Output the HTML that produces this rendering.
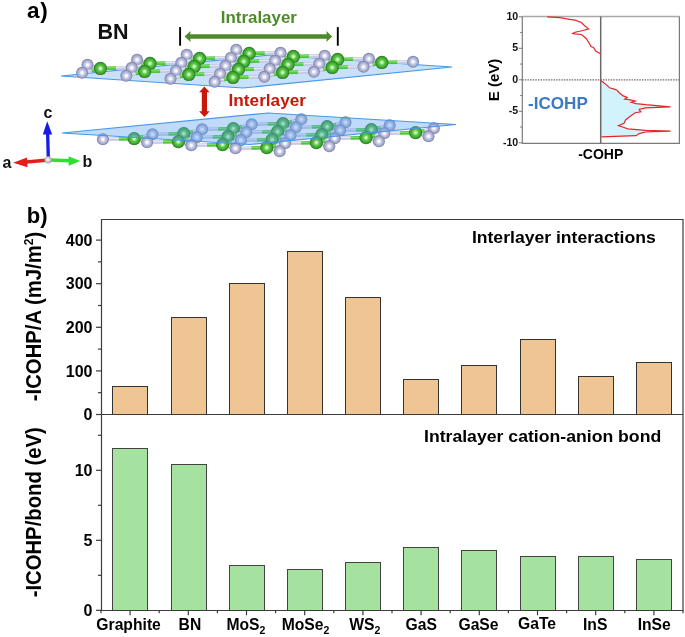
<!DOCTYPE html>
<html><head><meta charset="utf-8"><style>
html,body{margin:0;padding:0;background:#fff;}
svg{display:block;will-change:transform;}
</style></head><body>
<svg width="685" height="637" viewBox="0 0 685 637">
<defs>
<radialGradient id="gN" cx="0.5" cy="0.5" r="0.5">
<stop offset="0" stop-color="#ffffff"/><stop offset="0.18" stop-color="#f6f7ff"/><stop offset="0.42" stop-color="#c8cce6"/><stop offset="0.76" stop-color="#a2a7ca"/><stop offset="1" stop-color="#777ca2"/></radialGradient>
<radialGradient id="gG" cx="0.5" cy="0.5" r="0.5">
<stop offset="0" stop-color="#f0fff0"/><stop offset="0.18" stop-color="#b2f49e"/><stop offset="0.42" stop-color="#60c84c"/><stop offset="0.78" stop-color="#3da231"/><stop offset="1" stop-color="#2a7424"/></radialGradient>
<radialGradient id="gO" cx="0.45" cy="0.45" r="0.6"><stop offset="0" stop-color="#fff"/><stop offset="1" stop-color="#999"/></radialGradient>
</defs>
<rect width="685" height="637" fill="#fff"/>

<polygon points="61,76 270,55 452,67 243,88" fill="#5aa0f0" fill-opacity="0.33" stroke="#4a96e8" stroke-width="1.1"/>
<line x1="249.23" y1="53.47" x2="242.77" y2="51.63" stroke="#4cc43c" stroke-width="3.6"/><line x1="242.77" y1="51.63" x2="236.30" y2="49.80" stroke="#c6c8e2" stroke-width="3.6"/><line x1="249.23" y1="52.97" x2="242.77" y2="51.13" stroke="#7ee06a" stroke-width="1.1"/><line x1="242.77" y1="51.13" x2="236.30" y2="49.30" stroke="#e4e5f6" stroke-width="1.1"/>
<circle cx="236.30" cy="49.80" r="6.0" fill="url(#gN)"/>
<line x1="249.23" y1="53.47" x2="264.87" y2="53.13" stroke="#4cc43c" stroke-width="3.6"/><line x1="264.87" y1="53.13" x2="280.50" y2="52.80" stroke="#c6c8e2" stroke-width="3.6"/><line x1="249.23" y1="52.97" x2="264.87" y2="52.63" stroke="#7ee06a" stroke-width="1.1"/><line x1="264.87" y1="52.63" x2="280.50" y2="52.30" stroke="#e4e5f6" stroke-width="1.1"/>
<line x1="293.43" y1="56.47" x2="286.97" y2="54.63" stroke="#4cc43c" stroke-width="3.6"/><line x1="286.97" y1="54.63" x2="280.50" y2="52.80" stroke="#c6c8e2" stroke-width="3.6"/><line x1="293.43" y1="55.97" x2="286.97" y2="54.13" stroke="#7ee06a" stroke-width="1.1"/><line x1="286.97" y1="54.13" x2="280.50" y2="52.30" stroke="#e4e5f6" stroke-width="1.1"/>
<circle cx="280.50" cy="52.80" r="6.0" fill="url(#gN)"/>
<line x1="293.43" y1="56.47" x2="309.07" y2="56.13" stroke="#4cc43c" stroke-width="3.6"/><line x1="309.07" y1="56.13" x2="324.70" y2="55.80" stroke="#c6c8e2" stroke-width="3.6"/><line x1="293.43" y1="55.97" x2="309.07" y2="55.63" stroke="#7ee06a" stroke-width="1.1"/><line x1="309.07" y1="55.63" x2="324.70" y2="55.30" stroke="#e4e5f6" stroke-width="1.1"/>
<line x1="337.63" y1="59.47" x2="331.17" y2="57.63" stroke="#4cc43c" stroke-width="3.6"/><line x1="331.17" y1="57.63" x2="324.70" y2="55.80" stroke="#c6c8e2" stroke-width="3.6"/><line x1="337.63" y1="58.97" x2="331.17" y2="57.13" stroke="#7ee06a" stroke-width="1.1"/><line x1="331.17" y1="57.13" x2="324.70" y2="55.30" stroke="#e4e5f6" stroke-width="1.1"/>
<circle cx="324.70" cy="55.80" r="6.0" fill="url(#gN)"/>
<line x1="337.63" y1="59.47" x2="353.27" y2="59.13" stroke="#4cc43c" stroke-width="3.6"/><line x1="353.27" y1="59.13" x2="368.90" y2="58.80" stroke="#c6c8e2" stroke-width="3.6"/><line x1="337.63" y1="58.97" x2="353.27" y2="58.63" stroke="#7ee06a" stroke-width="1.1"/><line x1="353.27" y1="58.63" x2="368.90" y2="58.30" stroke="#e4e5f6" stroke-width="1.1"/>
<line x1="381.83" y1="62.47" x2="375.37" y2="60.63" stroke="#4cc43c" stroke-width="3.6"/><line x1="375.37" y1="60.63" x2="368.90" y2="58.80" stroke="#c6c8e2" stroke-width="3.6"/><line x1="381.83" y1="61.97" x2="375.37" y2="60.13" stroke="#7ee06a" stroke-width="1.1"/><line x1="375.37" y1="60.13" x2="368.90" y2="58.30" stroke="#e4e5f6" stroke-width="1.1"/>
<circle cx="368.90" cy="58.80" r="6.0" fill="url(#gN)"/>
<line x1="381.83" y1="62.47" x2="397.47" y2="62.13" stroke="#4cc43c" stroke-width="3.6"/><line x1="397.47" y1="62.13" x2="413.10" y2="61.80" stroke="#c6c8e2" stroke-width="3.6"/><line x1="381.83" y1="61.97" x2="397.47" y2="61.63" stroke="#7ee06a" stroke-width="1.1"/><line x1="397.47" y1="61.63" x2="413.10" y2="61.30" stroke="#e4e5f6" stroke-width="1.1"/>
<circle cx="413.10" cy="61.80" r="6.0" fill="url(#gN)"/>
<line x1="249.23" y1="53.47" x2="240.07" y2="55.63" stroke="#4cc43c" stroke-width="3.6"/><line x1="240.07" y1="55.63" x2="230.90" y2="57.80" stroke="#c6c8e2" stroke-width="3.6"/><line x1="249.23" y1="52.97" x2="240.07" y2="55.13" stroke="#7ee06a" stroke-width="1.1"/><line x1="240.07" y1="55.13" x2="230.90" y2="57.30" stroke="#e4e5f6" stroke-width="1.1"/>
<circle cx="249.23" cy="53.47" r="6.6" fill="url(#gG)"/>
<line x1="293.43" y1="56.47" x2="284.27" y2="58.63" stroke="#4cc43c" stroke-width="3.6"/><line x1="284.27" y1="58.63" x2="275.10" y2="60.80" stroke="#c6c8e2" stroke-width="3.6"/><line x1="293.43" y1="55.97" x2="284.27" y2="58.13" stroke="#7ee06a" stroke-width="1.1"/><line x1="284.27" y1="58.13" x2="275.10" y2="60.30" stroke="#e4e5f6" stroke-width="1.1"/>
<circle cx="293.43" cy="56.47" r="6.6" fill="url(#gG)"/>
<line x1="337.63" y1="59.47" x2="328.47" y2="61.63" stroke="#4cc43c" stroke-width="3.6"/><line x1="328.47" y1="61.63" x2="319.30" y2="63.80" stroke="#c6c8e2" stroke-width="3.6"/><line x1="337.63" y1="58.97" x2="328.47" y2="61.13" stroke="#7ee06a" stroke-width="1.1"/><line x1="328.47" y1="61.13" x2="319.30" y2="63.30" stroke="#e4e5f6" stroke-width="1.1"/>
<circle cx="337.63" cy="59.47" r="6.6" fill="url(#gG)"/>
<line x1="381.83" y1="62.47" x2="372.67" y2="64.63" stroke="#4cc43c" stroke-width="3.6"/><line x1="372.67" y1="64.63" x2="363.50" y2="66.80" stroke="#c6c8e2" stroke-width="3.6"/><line x1="381.83" y1="61.97" x2="372.67" y2="64.13" stroke="#7ee06a" stroke-width="1.1"/><line x1="372.67" y1="64.13" x2="363.50" y2="66.30" stroke="#e4e5f6" stroke-width="1.1"/>
<circle cx="381.83" cy="62.47" r="6.6" fill="url(#gG)"/>
<line x1="199.63" y1="58.47" x2="193.17" y2="56.63" stroke="#4cc43c" stroke-width="3.6"/><line x1="193.17" y1="56.63" x2="186.70" y2="54.80" stroke="#c6c8e2" stroke-width="3.6"/><line x1="199.63" y1="57.97" x2="193.17" y2="56.13" stroke="#7ee06a" stroke-width="1.1"/><line x1="193.17" y1="56.13" x2="186.70" y2="54.30" stroke="#e4e5f6" stroke-width="1.1"/>
<circle cx="186.70" cy="54.80" r="6.0" fill="url(#gN)"/>
<line x1="199.63" y1="58.47" x2="215.27" y2="58.13" stroke="#4cc43c" stroke-width="3.6"/><line x1="215.27" y1="58.13" x2="230.90" y2="57.80" stroke="#c6c8e2" stroke-width="3.6"/><line x1="199.63" y1="57.97" x2="215.27" y2="57.63" stroke="#7ee06a" stroke-width="1.1"/><line x1="215.27" y1="57.63" x2="230.90" y2="57.30" stroke="#e4e5f6" stroke-width="1.1"/>
<line x1="243.83" y1="61.47" x2="237.37" y2="59.63" stroke="#4cc43c" stroke-width="3.6"/><line x1="237.37" y1="59.63" x2="230.90" y2="57.80" stroke="#c6c8e2" stroke-width="3.6"/><line x1="243.83" y1="60.97" x2="237.37" y2="59.13" stroke="#7ee06a" stroke-width="1.1"/><line x1="237.37" y1="59.13" x2="230.90" y2="57.30" stroke="#e4e5f6" stroke-width="1.1"/>
<circle cx="230.90" cy="57.80" r="6.0" fill="url(#gN)"/>
<line x1="243.83" y1="61.47" x2="259.47" y2="61.13" stroke="#4cc43c" stroke-width="3.6"/><line x1="259.47" y1="61.13" x2="275.10" y2="60.80" stroke="#c6c8e2" stroke-width="3.6"/><line x1="243.83" y1="60.97" x2="259.47" y2="60.63" stroke="#7ee06a" stroke-width="1.1"/><line x1="259.47" y1="60.63" x2="275.10" y2="60.30" stroke="#e4e5f6" stroke-width="1.1"/>
<line x1="288.03" y1="64.47" x2="281.57" y2="62.63" stroke="#4cc43c" stroke-width="3.6"/><line x1="281.57" y1="62.63" x2="275.10" y2="60.80" stroke="#c6c8e2" stroke-width="3.6"/><line x1="288.03" y1="63.97" x2="281.57" y2="62.13" stroke="#7ee06a" stroke-width="1.1"/><line x1="281.57" y1="62.13" x2="275.10" y2="60.30" stroke="#e4e5f6" stroke-width="1.1"/>
<circle cx="275.10" cy="60.80" r="6.0" fill="url(#gN)"/>
<line x1="288.03" y1="64.47" x2="303.67" y2="64.13" stroke="#4cc43c" stroke-width="3.6"/><line x1="303.67" y1="64.13" x2="319.30" y2="63.80" stroke="#c6c8e2" stroke-width="3.6"/><line x1="288.03" y1="63.97" x2="303.67" y2="63.63" stroke="#7ee06a" stroke-width="1.1"/><line x1="303.67" y1="63.63" x2="319.30" y2="63.30" stroke="#e4e5f6" stroke-width="1.1"/>
<line x1="332.23" y1="67.47" x2="325.77" y2="65.63" stroke="#4cc43c" stroke-width="3.6"/><line x1="325.77" y1="65.63" x2="319.30" y2="63.80" stroke="#c6c8e2" stroke-width="3.6"/><line x1="332.23" y1="66.97" x2="325.77" y2="65.13" stroke="#7ee06a" stroke-width="1.1"/><line x1="325.77" y1="65.13" x2="319.30" y2="63.30" stroke="#e4e5f6" stroke-width="1.1"/>
<circle cx="319.30" cy="63.80" r="6.0" fill="url(#gN)"/>
<line x1="332.23" y1="67.47" x2="347.87" y2="67.13" stroke="#4cc43c" stroke-width="3.6"/><line x1="347.87" y1="67.13" x2="363.50" y2="66.80" stroke="#c6c8e2" stroke-width="3.6"/><line x1="332.23" y1="66.97" x2="347.87" y2="66.63" stroke="#7ee06a" stroke-width="1.1"/><line x1="347.87" y1="66.63" x2="363.50" y2="66.30" stroke="#e4e5f6" stroke-width="1.1"/>
<circle cx="363.50" cy="66.80" r="6.0" fill="url(#gN)"/>
<line x1="199.63" y1="58.47" x2="190.47" y2="60.63" stroke="#4cc43c" stroke-width="3.6"/><line x1="190.47" y1="60.63" x2="181.30" y2="62.80" stroke="#c6c8e2" stroke-width="3.6"/><line x1="199.63" y1="57.97" x2="190.47" y2="60.13" stroke="#7ee06a" stroke-width="1.1"/><line x1="190.47" y1="60.13" x2="181.30" y2="62.30" stroke="#e4e5f6" stroke-width="1.1"/>
<circle cx="199.63" cy="58.47" r="6.6" fill="url(#gG)"/>
<line x1="243.83" y1="61.47" x2="234.67" y2="63.63" stroke="#4cc43c" stroke-width="3.6"/><line x1="234.67" y1="63.63" x2="225.50" y2="65.80" stroke="#c6c8e2" stroke-width="3.6"/><line x1="243.83" y1="60.97" x2="234.67" y2="63.13" stroke="#7ee06a" stroke-width="1.1"/><line x1="234.67" y1="63.13" x2="225.50" y2="65.30" stroke="#e4e5f6" stroke-width="1.1"/>
<circle cx="243.83" cy="61.47" r="6.6" fill="url(#gG)"/>
<line x1="288.03" y1="64.47" x2="278.87" y2="66.63" stroke="#4cc43c" stroke-width="3.6"/><line x1="278.87" y1="66.63" x2="269.70" y2="68.80" stroke="#c6c8e2" stroke-width="3.6"/><line x1="288.03" y1="63.97" x2="278.87" y2="66.13" stroke="#7ee06a" stroke-width="1.1"/><line x1="278.87" y1="66.13" x2="269.70" y2="68.30" stroke="#e4e5f6" stroke-width="1.1"/>
<circle cx="288.03" cy="64.47" r="6.6" fill="url(#gG)"/>
<line x1="332.23" y1="67.47" x2="323.07" y2="69.63" stroke="#4cc43c" stroke-width="3.6"/><line x1="323.07" y1="69.63" x2="313.90" y2="71.80" stroke="#c6c8e2" stroke-width="3.6"/><line x1="332.23" y1="66.97" x2="323.07" y2="69.13" stroke="#7ee06a" stroke-width="1.1"/><line x1="323.07" y1="69.13" x2="313.90" y2="71.30" stroke="#e4e5f6" stroke-width="1.1"/>
<circle cx="332.23" cy="67.47" r="6.6" fill="url(#gG)"/>
<line x1="150.03" y1="63.47" x2="143.57" y2="61.63" stroke="#4cc43c" stroke-width="3.6"/><line x1="143.57" y1="61.63" x2="137.10" y2="59.80" stroke="#c6c8e2" stroke-width="3.6"/><line x1="150.03" y1="62.97" x2="143.57" y2="61.13" stroke="#7ee06a" stroke-width="1.1"/><line x1="143.57" y1="61.13" x2="137.10" y2="59.30" stroke="#e4e5f6" stroke-width="1.1"/>
<circle cx="137.10" cy="59.80" r="6.0" fill="url(#gN)"/>
<line x1="150.03" y1="63.47" x2="165.67" y2="63.13" stroke="#4cc43c" stroke-width="3.6"/><line x1="165.67" y1="63.13" x2="181.30" y2="62.80" stroke="#c6c8e2" stroke-width="3.6"/><line x1="150.03" y1="62.97" x2="165.67" y2="62.63" stroke="#7ee06a" stroke-width="1.1"/><line x1="165.67" y1="62.63" x2="181.30" y2="62.30" stroke="#e4e5f6" stroke-width="1.1"/>
<line x1="194.23" y1="66.47" x2="187.77" y2="64.63" stroke="#4cc43c" stroke-width="3.6"/><line x1="187.77" y1="64.63" x2="181.30" y2="62.80" stroke="#c6c8e2" stroke-width="3.6"/><line x1="194.23" y1="65.97" x2="187.77" y2="64.13" stroke="#7ee06a" stroke-width="1.1"/><line x1="187.77" y1="64.13" x2="181.30" y2="62.30" stroke="#e4e5f6" stroke-width="1.1"/>
<circle cx="181.30" cy="62.80" r="6.0" fill="url(#gN)"/>
<line x1="194.23" y1="66.47" x2="209.87" y2="66.13" stroke="#4cc43c" stroke-width="3.6"/><line x1="209.87" y1="66.13" x2="225.50" y2="65.80" stroke="#c6c8e2" stroke-width="3.6"/><line x1="194.23" y1="65.97" x2="209.87" y2="65.63" stroke="#7ee06a" stroke-width="1.1"/><line x1="209.87" y1="65.63" x2="225.50" y2="65.30" stroke="#e4e5f6" stroke-width="1.1"/>
<line x1="238.43" y1="69.47" x2="231.97" y2="67.63" stroke="#4cc43c" stroke-width="3.6"/><line x1="231.97" y1="67.63" x2="225.50" y2="65.80" stroke="#c6c8e2" stroke-width="3.6"/><line x1="238.43" y1="68.97" x2="231.97" y2="67.13" stroke="#7ee06a" stroke-width="1.1"/><line x1="231.97" y1="67.13" x2="225.50" y2="65.30" stroke="#e4e5f6" stroke-width="1.1"/>
<circle cx="225.50" cy="65.80" r="6.0" fill="url(#gN)"/>
<line x1="238.43" y1="69.47" x2="254.07" y2="69.13" stroke="#4cc43c" stroke-width="3.6"/><line x1="254.07" y1="69.13" x2="269.70" y2="68.80" stroke="#c6c8e2" stroke-width="3.6"/><line x1="238.43" y1="68.97" x2="254.07" y2="68.63" stroke="#7ee06a" stroke-width="1.1"/><line x1="254.07" y1="68.63" x2="269.70" y2="68.30" stroke="#e4e5f6" stroke-width="1.1"/>
<line x1="282.63" y1="72.47" x2="276.17" y2="70.63" stroke="#4cc43c" stroke-width="3.6"/><line x1="276.17" y1="70.63" x2="269.70" y2="68.80" stroke="#c6c8e2" stroke-width="3.6"/><line x1="282.63" y1="71.97" x2="276.17" y2="70.13" stroke="#7ee06a" stroke-width="1.1"/><line x1="276.17" y1="70.13" x2="269.70" y2="68.30" stroke="#e4e5f6" stroke-width="1.1"/>
<circle cx="269.70" cy="68.80" r="6.0" fill="url(#gN)"/>
<line x1="282.63" y1="72.47" x2="298.27" y2="72.13" stroke="#4cc43c" stroke-width="3.6"/><line x1="298.27" y1="72.13" x2="313.90" y2="71.80" stroke="#c6c8e2" stroke-width="3.6"/><line x1="282.63" y1="71.97" x2="298.27" y2="71.63" stroke="#7ee06a" stroke-width="1.1"/><line x1="298.27" y1="71.63" x2="313.90" y2="71.30" stroke="#e4e5f6" stroke-width="1.1"/>
<circle cx="313.90" cy="71.80" r="6.0" fill="url(#gN)"/>
<line x1="150.03" y1="63.47" x2="140.87" y2="65.63" stroke="#4cc43c" stroke-width="3.6"/><line x1="140.87" y1="65.63" x2="131.70" y2="67.80" stroke="#c6c8e2" stroke-width="3.6"/><line x1="150.03" y1="62.97" x2="140.87" y2="65.13" stroke="#7ee06a" stroke-width="1.1"/><line x1="140.87" y1="65.13" x2="131.70" y2="67.30" stroke="#e4e5f6" stroke-width="1.1"/>
<circle cx="150.03" cy="63.47" r="6.6" fill="url(#gG)"/>
<line x1="194.23" y1="66.47" x2="185.07" y2="68.63" stroke="#4cc43c" stroke-width="3.6"/><line x1="185.07" y1="68.63" x2="175.90" y2="70.80" stroke="#c6c8e2" stroke-width="3.6"/><line x1="194.23" y1="65.97" x2="185.07" y2="68.13" stroke="#7ee06a" stroke-width="1.1"/><line x1="185.07" y1="68.13" x2="175.90" y2="70.30" stroke="#e4e5f6" stroke-width="1.1"/>
<circle cx="194.23" cy="66.47" r="6.6" fill="url(#gG)"/>
<line x1="238.43" y1="69.47" x2="229.27" y2="71.63" stroke="#4cc43c" stroke-width="3.6"/><line x1="229.27" y1="71.63" x2="220.10" y2="73.80" stroke="#c6c8e2" stroke-width="3.6"/><line x1="238.43" y1="68.97" x2="229.27" y2="71.13" stroke="#7ee06a" stroke-width="1.1"/><line x1="229.27" y1="71.13" x2="220.10" y2="73.30" stroke="#e4e5f6" stroke-width="1.1"/>
<circle cx="238.43" cy="69.47" r="6.6" fill="url(#gG)"/>
<line x1="282.63" y1="72.47" x2="273.47" y2="74.63" stroke="#4cc43c" stroke-width="3.6"/><line x1="273.47" y1="74.63" x2="264.30" y2="76.80" stroke="#c6c8e2" stroke-width="3.6"/><line x1="282.63" y1="71.97" x2="273.47" y2="74.13" stroke="#7ee06a" stroke-width="1.1"/><line x1="273.47" y1="74.13" x2="264.30" y2="76.30" stroke="#e4e5f6" stroke-width="1.1"/>
<circle cx="282.63" cy="72.47" r="6.6" fill="url(#gG)"/>
<line x1="100.43" y1="68.47" x2="93.97" y2="66.63" stroke="#4cc43c" stroke-width="3.6"/><line x1="93.97" y1="66.63" x2="87.50" y2="64.80" stroke="#c6c8e2" stroke-width="3.6"/><line x1="100.43" y1="67.97" x2="93.97" y2="66.13" stroke="#7ee06a" stroke-width="1.1"/><line x1="93.97" y1="66.13" x2="87.50" y2="64.30" stroke="#e4e5f6" stroke-width="1.1"/>
<circle cx="87.50" cy="64.80" r="6.0" fill="url(#gN)"/>
<line x1="100.43" y1="68.47" x2="116.07" y2="68.13" stroke="#4cc43c" stroke-width="3.6"/><line x1="116.07" y1="68.13" x2="131.70" y2="67.80" stroke="#c6c8e2" stroke-width="3.6"/><line x1="100.43" y1="67.97" x2="116.07" y2="67.63" stroke="#7ee06a" stroke-width="1.1"/><line x1="116.07" y1="67.63" x2="131.70" y2="67.30" stroke="#e4e5f6" stroke-width="1.1"/>
<line x1="144.63" y1="71.47" x2="138.17" y2="69.63" stroke="#4cc43c" stroke-width="3.6"/><line x1="138.17" y1="69.63" x2="131.70" y2="67.80" stroke="#c6c8e2" stroke-width="3.6"/><line x1="144.63" y1="70.97" x2="138.17" y2="69.13" stroke="#7ee06a" stroke-width="1.1"/><line x1="138.17" y1="69.13" x2="131.70" y2="67.30" stroke="#e4e5f6" stroke-width="1.1"/>
<circle cx="131.70" cy="67.80" r="6.0" fill="url(#gN)"/>
<line x1="144.63" y1="71.47" x2="160.27" y2="71.13" stroke="#4cc43c" stroke-width="3.6"/><line x1="160.27" y1="71.13" x2="175.90" y2="70.80" stroke="#c6c8e2" stroke-width="3.6"/><line x1="144.63" y1="70.97" x2="160.27" y2="70.63" stroke="#7ee06a" stroke-width="1.1"/><line x1="160.27" y1="70.63" x2="175.90" y2="70.30" stroke="#e4e5f6" stroke-width="1.1"/>
<line x1="188.83" y1="74.47" x2="182.37" y2="72.63" stroke="#4cc43c" stroke-width="3.6"/><line x1="182.37" y1="72.63" x2="175.90" y2="70.80" stroke="#c6c8e2" stroke-width="3.6"/><line x1="188.83" y1="73.97" x2="182.37" y2="72.13" stroke="#7ee06a" stroke-width="1.1"/><line x1="182.37" y1="72.13" x2="175.90" y2="70.30" stroke="#e4e5f6" stroke-width="1.1"/>
<circle cx="175.90" cy="70.80" r="6.0" fill="url(#gN)"/>
<line x1="188.83" y1="74.47" x2="204.47" y2="74.13" stroke="#4cc43c" stroke-width="3.6"/><line x1="204.47" y1="74.13" x2="220.10" y2="73.80" stroke="#c6c8e2" stroke-width="3.6"/><line x1="188.83" y1="73.97" x2="204.47" y2="73.63" stroke="#7ee06a" stroke-width="1.1"/><line x1="204.47" y1="73.63" x2="220.10" y2="73.30" stroke="#e4e5f6" stroke-width="1.1"/>
<line x1="233.03" y1="77.47" x2="226.57" y2="75.63" stroke="#4cc43c" stroke-width="3.6"/><line x1="226.57" y1="75.63" x2="220.10" y2="73.80" stroke="#c6c8e2" stroke-width="3.6"/><line x1="233.03" y1="76.97" x2="226.57" y2="75.13" stroke="#7ee06a" stroke-width="1.1"/><line x1="226.57" y1="75.13" x2="220.10" y2="73.30" stroke="#e4e5f6" stroke-width="1.1"/>
<circle cx="220.10" cy="73.80" r="6.0" fill="url(#gN)"/>
<line x1="233.03" y1="77.47" x2="248.67" y2="77.13" stroke="#4cc43c" stroke-width="3.6"/><line x1="248.67" y1="77.13" x2="264.30" y2="76.80" stroke="#c6c8e2" stroke-width="3.6"/><line x1="233.03" y1="76.97" x2="248.67" y2="76.63" stroke="#7ee06a" stroke-width="1.1"/><line x1="248.67" y1="76.63" x2="264.30" y2="76.30" stroke="#e4e5f6" stroke-width="1.1"/>
<circle cx="264.30" cy="76.80" r="6.0" fill="url(#gN)"/>
<line x1="100.43" y1="68.47" x2="91.27" y2="70.63" stroke="#4cc43c" stroke-width="3.6"/><line x1="91.27" y1="70.63" x2="82.10" y2="72.80" stroke="#c6c8e2" stroke-width="3.6"/><line x1="100.43" y1="67.97" x2="91.27" y2="70.13" stroke="#7ee06a" stroke-width="1.1"/><line x1="91.27" y1="70.13" x2="82.10" y2="72.30" stroke="#e4e5f6" stroke-width="1.1"/>
<circle cx="100.43" cy="68.47" r="6.6" fill="url(#gG)"/>
<line x1="144.63" y1="71.47" x2="135.47" y2="73.63" stroke="#4cc43c" stroke-width="3.6"/><line x1="135.47" y1="73.63" x2="126.30" y2="75.80" stroke="#c6c8e2" stroke-width="3.6"/><line x1="144.63" y1="70.97" x2="135.47" y2="73.13" stroke="#7ee06a" stroke-width="1.1"/><line x1="135.47" y1="73.13" x2="126.30" y2="75.30" stroke="#e4e5f6" stroke-width="1.1"/>
<circle cx="144.63" cy="71.47" r="6.6" fill="url(#gG)"/>
<line x1="188.83" y1="74.47" x2="179.67" y2="76.63" stroke="#4cc43c" stroke-width="3.6"/><line x1="179.67" y1="76.63" x2="170.50" y2="78.80" stroke="#c6c8e2" stroke-width="3.6"/><line x1="188.83" y1="73.97" x2="179.67" y2="76.13" stroke="#7ee06a" stroke-width="1.1"/><line x1="179.67" y1="76.13" x2="170.50" y2="78.30" stroke="#e4e5f6" stroke-width="1.1"/>
<circle cx="188.83" cy="74.47" r="6.6" fill="url(#gG)"/>
<line x1="233.03" y1="77.47" x2="223.87" y2="79.63" stroke="#4cc43c" stroke-width="3.6"/><line x1="223.87" y1="79.63" x2="214.70" y2="81.80" stroke="#c6c8e2" stroke-width="3.6"/><line x1="233.03" y1="76.97" x2="223.87" y2="79.13" stroke="#7ee06a" stroke-width="1.1"/><line x1="223.87" y1="79.13" x2="214.70" y2="81.30" stroke="#e4e5f6" stroke-width="1.1"/>
<circle cx="233.03" cy="77.47" r="6.6" fill="url(#gG)"/>
<circle cx="82.10" cy="72.80" r="6.0" fill="url(#gN)"/>
<circle cx="126.30" cy="75.80" r="6.0" fill="url(#gN)"/>
<circle cx="170.50" cy="78.80" r="6.0" fill="url(#gN)"/>
<circle cx="214.70" cy="81.80" r="6.0" fill="url(#gN)"/>
<line x1="282.97" y1="123.63" x2="292.13" y2="121.47" stroke="#4cc43c" stroke-width="3.6"/><line x1="292.13" y1="121.47" x2="301.30" y2="119.30" stroke="#c6c8e2" stroke-width="3.6"/><line x1="282.97" y1="123.13" x2="292.13" y2="120.97" stroke="#7ee06a" stroke-width="1.1"/><line x1="292.13" y1="120.97" x2="301.30" y2="118.80" stroke="#e4e5f6" stroke-width="1.1"/>
<circle cx="301.30" cy="119.30" r="6.0" fill="url(#gN)"/>
<line x1="327.17" y1="126.63" x2="336.33" y2="124.47" stroke="#4cc43c" stroke-width="3.6"/><line x1="336.33" y1="124.47" x2="345.50" y2="122.30" stroke="#c6c8e2" stroke-width="3.6"/><line x1="327.17" y1="126.13" x2="336.33" y2="123.97" stroke="#7ee06a" stroke-width="1.1"/><line x1="336.33" y1="123.97" x2="345.50" y2="121.80" stroke="#e4e5f6" stroke-width="1.1"/>
<circle cx="345.50" cy="122.30" r="6.0" fill="url(#gN)"/>
<line x1="371.37" y1="129.63" x2="380.53" y2="127.47" stroke="#4cc43c" stroke-width="3.6"/><line x1="380.53" y1="127.47" x2="389.70" y2="125.30" stroke="#c6c8e2" stroke-width="3.6"/><line x1="371.37" y1="129.13" x2="380.53" y2="126.97" stroke="#7ee06a" stroke-width="1.1"/><line x1="380.53" y1="126.97" x2="389.70" y2="124.80" stroke="#e4e5f6" stroke-width="1.1"/>
<circle cx="389.70" cy="125.30" r="6.0" fill="url(#gN)"/>
<line x1="415.57" y1="132.63" x2="424.73" y2="130.47" stroke="#4cc43c" stroke-width="3.6"/><line x1="424.73" y1="130.47" x2="433.90" y2="128.30" stroke="#c6c8e2" stroke-width="3.6"/><line x1="415.57" y1="132.13" x2="424.73" y2="129.97" stroke="#7ee06a" stroke-width="1.1"/><line x1="424.73" y1="129.97" x2="433.90" y2="127.80" stroke="#e4e5f6" stroke-width="1.1"/>
<circle cx="433.90" cy="128.30" r="6.0" fill="url(#gN)"/>
<line x1="282.97" y1="123.63" x2="267.33" y2="123.97" stroke="#4cc43c" stroke-width="3.6"/><line x1="267.33" y1="123.97" x2="251.70" y2="124.30" stroke="#c6c8e2" stroke-width="3.6"/><line x1="282.97" y1="123.13" x2="267.33" y2="123.47" stroke="#7ee06a" stroke-width="1.1"/><line x1="267.33" y1="123.47" x2="251.70" y2="123.80" stroke="#e4e5f6" stroke-width="1.1"/>
<line x1="282.97" y1="123.63" x2="289.43" y2="125.47" stroke="#4cc43c" stroke-width="3.6"/><line x1="289.43" y1="125.47" x2="295.90" y2="127.30" stroke="#c6c8e2" stroke-width="3.6"/><line x1="282.97" y1="123.13" x2="289.43" y2="124.97" stroke="#7ee06a" stroke-width="1.1"/><line x1="289.43" y1="124.97" x2="295.90" y2="126.80" stroke="#e4e5f6" stroke-width="1.1"/>
<circle cx="282.97" cy="123.63" r="6.6" fill="url(#gG)"/>
<line x1="327.17" y1="126.63" x2="311.53" y2="126.97" stroke="#4cc43c" stroke-width="3.6"/><line x1="311.53" y1="126.97" x2="295.90" y2="127.30" stroke="#c6c8e2" stroke-width="3.6"/><line x1="327.17" y1="126.13" x2="311.53" y2="126.47" stroke="#7ee06a" stroke-width="1.1"/><line x1="311.53" y1="126.47" x2="295.90" y2="126.80" stroke="#e4e5f6" stroke-width="1.1"/>
<line x1="327.17" y1="126.63" x2="333.63" y2="128.47" stroke="#4cc43c" stroke-width="3.6"/><line x1="333.63" y1="128.47" x2="340.10" y2="130.30" stroke="#c6c8e2" stroke-width="3.6"/><line x1="327.17" y1="126.13" x2="333.63" y2="127.97" stroke="#7ee06a" stroke-width="1.1"/><line x1="333.63" y1="127.97" x2="340.10" y2="129.80" stroke="#e4e5f6" stroke-width="1.1"/>
<circle cx="327.17" cy="126.63" r="6.6" fill="url(#gG)"/>
<line x1="371.37" y1="129.63" x2="355.73" y2="129.97" stroke="#4cc43c" stroke-width="3.6"/><line x1="355.73" y1="129.97" x2="340.10" y2="130.30" stroke="#c6c8e2" stroke-width="3.6"/><line x1="371.37" y1="129.13" x2="355.73" y2="129.47" stroke="#7ee06a" stroke-width="1.1"/><line x1="355.73" y1="129.47" x2="340.10" y2="129.80" stroke="#e4e5f6" stroke-width="1.1"/>
<line x1="371.37" y1="129.63" x2="377.83" y2="131.47" stroke="#4cc43c" stroke-width="3.6"/><line x1="377.83" y1="131.47" x2="384.30" y2="133.30" stroke="#c6c8e2" stroke-width="3.6"/><line x1="371.37" y1="129.13" x2="377.83" y2="130.97" stroke="#7ee06a" stroke-width="1.1"/><line x1="377.83" y1="130.97" x2="384.30" y2="132.80" stroke="#e4e5f6" stroke-width="1.1"/>
<circle cx="371.37" cy="129.63" r="6.6" fill="url(#gG)"/>
<line x1="415.57" y1="132.63" x2="399.93" y2="132.97" stroke="#4cc43c" stroke-width="3.6"/><line x1="399.93" y1="132.97" x2="384.30" y2="133.30" stroke="#c6c8e2" stroke-width="3.6"/><line x1="415.57" y1="132.13" x2="399.93" y2="132.47" stroke="#7ee06a" stroke-width="1.1"/><line x1="399.93" y1="132.47" x2="384.30" y2="132.80" stroke="#e4e5f6" stroke-width="1.1"/>
<line x1="415.57" y1="132.63" x2="422.03" y2="134.47" stroke="#4cc43c" stroke-width="3.6"/><line x1="422.03" y1="134.47" x2="428.50" y2="136.30" stroke="#c6c8e2" stroke-width="3.6"/><line x1="415.57" y1="132.13" x2="422.03" y2="133.97" stroke="#7ee06a" stroke-width="1.1"/><line x1="422.03" y1="133.97" x2="428.50" y2="135.80" stroke="#e4e5f6" stroke-width="1.1"/>
<circle cx="415.57" cy="132.63" r="6.6" fill="url(#gG)"/>
<line x1="233.37" y1="128.63" x2="242.53" y2="126.47" stroke="#4cc43c" stroke-width="3.6"/><line x1="242.53" y1="126.47" x2="251.70" y2="124.30" stroke="#c6c8e2" stroke-width="3.6"/><line x1="233.37" y1="128.13" x2="242.53" y2="125.97" stroke="#7ee06a" stroke-width="1.1"/><line x1="242.53" y1="125.97" x2="251.70" y2="123.80" stroke="#e4e5f6" stroke-width="1.1"/>
<circle cx="251.70" cy="124.30" r="6.0" fill="url(#gN)"/>
<line x1="277.57" y1="131.63" x2="286.73" y2="129.47" stroke="#4cc43c" stroke-width="3.6"/><line x1="286.73" y1="129.47" x2="295.90" y2="127.30" stroke="#c6c8e2" stroke-width="3.6"/><line x1="277.57" y1="131.13" x2="286.73" y2="128.97" stroke="#7ee06a" stroke-width="1.1"/><line x1="286.73" y1="128.97" x2="295.90" y2="126.80" stroke="#e4e5f6" stroke-width="1.1"/>
<circle cx="295.90" cy="127.30" r="6.0" fill="url(#gN)"/>
<line x1="321.77" y1="134.63" x2="330.93" y2="132.47" stroke="#4cc43c" stroke-width="3.6"/><line x1="330.93" y1="132.47" x2="340.10" y2="130.30" stroke="#c6c8e2" stroke-width="3.6"/><line x1="321.77" y1="134.13" x2="330.93" y2="131.97" stroke="#7ee06a" stroke-width="1.1"/><line x1="330.93" y1="131.97" x2="340.10" y2="129.80" stroke="#e4e5f6" stroke-width="1.1"/>
<circle cx="340.10" cy="130.30" r="6.0" fill="url(#gN)"/>
<line x1="365.97" y1="137.63" x2="375.13" y2="135.47" stroke="#4cc43c" stroke-width="3.6"/><line x1="375.13" y1="135.47" x2="384.30" y2="133.30" stroke="#c6c8e2" stroke-width="3.6"/><line x1="365.97" y1="137.13" x2="375.13" y2="134.97" stroke="#7ee06a" stroke-width="1.1"/><line x1="375.13" y1="134.97" x2="384.30" y2="132.80" stroke="#e4e5f6" stroke-width="1.1"/>
<circle cx="384.30" cy="133.30" r="6.0" fill="url(#gN)"/>
<circle cx="428.50" cy="136.30" r="6.0" fill="url(#gN)"/>
<line x1="233.37" y1="128.63" x2="217.73" y2="128.97" stroke="#4cc43c" stroke-width="3.6"/><line x1="217.73" y1="128.97" x2="202.10" y2="129.30" stroke="#c6c8e2" stroke-width="3.6"/><line x1="233.37" y1="128.13" x2="217.73" y2="128.47" stroke="#7ee06a" stroke-width="1.1"/><line x1="217.73" y1="128.47" x2="202.10" y2="128.80" stroke="#e4e5f6" stroke-width="1.1"/>
<line x1="233.37" y1="128.63" x2="239.83" y2="130.47" stroke="#4cc43c" stroke-width="3.6"/><line x1="239.83" y1="130.47" x2="246.30" y2="132.30" stroke="#c6c8e2" stroke-width="3.6"/><line x1="233.37" y1="128.13" x2="239.83" y2="129.97" stroke="#7ee06a" stroke-width="1.1"/><line x1="239.83" y1="129.97" x2="246.30" y2="131.80" stroke="#e4e5f6" stroke-width="1.1"/>
<circle cx="233.37" cy="128.63" r="6.6" fill="url(#gG)"/>
<line x1="277.57" y1="131.63" x2="261.93" y2="131.97" stroke="#4cc43c" stroke-width="3.6"/><line x1="261.93" y1="131.97" x2="246.30" y2="132.30" stroke="#c6c8e2" stroke-width="3.6"/><line x1="277.57" y1="131.13" x2="261.93" y2="131.47" stroke="#7ee06a" stroke-width="1.1"/><line x1="261.93" y1="131.47" x2="246.30" y2="131.80" stroke="#e4e5f6" stroke-width="1.1"/>
<line x1="277.57" y1="131.63" x2="284.03" y2="133.47" stroke="#4cc43c" stroke-width="3.6"/><line x1="284.03" y1="133.47" x2="290.50" y2="135.30" stroke="#c6c8e2" stroke-width="3.6"/><line x1="277.57" y1="131.13" x2="284.03" y2="132.97" stroke="#7ee06a" stroke-width="1.1"/><line x1="284.03" y1="132.97" x2="290.50" y2="134.80" stroke="#e4e5f6" stroke-width="1.1"/>
<circle cx="277.57" cy="131.63" r="6.6" fill="url(#gG)"/>
<line x1="321.77" y1="134.63" x2="306.13" y2="134.97" stroke="#4cc43c" stroke-width="3.6"/><line x1="306.13" y1="134.97" x2="290.50" y2="135.30" stroke="#c6c8e2" stroke-width="3.6"/><line x1="321.77" y1="134.13" x2="306.13" y2="134.47" stroke="#7ee06a" stroke-width="1.1"/><line x1="306.13" y1="134.47" x2="290.50" y2="134.80" stroke="#e4e5f6" stroke-width="1.1"/>
<line x1="321.77" y1="134.63" x2="328.23" y2="136.47" stroke="#4cc43c" stroke-width="3.6"/><line x1="328.23" y1="136.47" x2="334.70" y2="138.30" stroke="#c6c8e2" stroke-width="3.6"/><line x1="321.77" y1="134.13" x2="328.23" y2="135.97" stroke="#7ee06a" stroke-width="1.1"/><line x1="328.23" y1="135.97" x2="334.70" y2="137.80" stroke="#e4e5f6" stroke-width="1.1"/>
<circle cx="321.77" cy="134.63" r="6.6" fill="url(#gG)"/>
<line x1="365.97" y1="137.63" x2="350.33" y2="137.97" stroke="#4cc43c" stroke-width="3.6"/><line x1="350.33" y1="137.97" x2="334.70" y2="138.30" stroke="#c6c8e2" stroke-width="3.6"/><line x1="365.97" y1="137.13" x2="350.33" y2="137.47" stroke="#7ee06a" stroke-width="1.1"/><line x1="350.33" y1="137.47" x2="334.70" y2="137.80" stroke="#e4e5f6" stroke-width="1.1"/>
<line x1="365.97" y1="137.63" x2="372.43" y2="139.47" stroke="#4cc43c" stroke-width="3.6"/><line x1="372.43" y1="139.47" x2="378.90" y2="141.30" stroke="#c6c8e2" stroke-width="3.6"/><line x1="365.97" y1="137.13" x2="372.43" y2="138.97" stroke="#7ee06a" stroke-width="1.1"/><line x1="372.43" y1="138.97" x2="378.90" y2="140.80" stroke="#e4e5f6" stroke-width="1.1"/>
<circle cx="365.97" cy="137.63" r="6.6" fill="url(#gG)"/>
<line x1="183.77" y1="133.63" x2="192.93" y2="131.47" stroke="#4cc43c" stroke-width="3.6"/><line x1="192.93" y1="131.47" x2="202.10" y2="129.30" stroke="#c6c8e2" stroke-width="3.6"/><line x1="183.77" y1="133.13" x2="192.93" y2="130.97" stroke="#7ee06a" stroke-width="1.1"/><line x1="192.93" y1="130.97" x2="202.10" y2="128.80" stroke="#e4e5f6" stroke-width="1.1"/>
<circle cx="202.10" cy="129.30" r="6.0" fill="url(#gN)"/>
<line x1="227.97" y1="136.63" x2="237.13" y2="134.47" stroke="#4cc43c" stroke-width="3.6"/><line x1="237.13" y1="134.47" x2="246.30" y2="132.30" stroke="#c6c8e2" stroke-width="3.6"/><line x1="227.97" y1="136.13" x2="237.13" y2="133.97" stroke="#7ee06a" stroke-width="1.1"/><line x1="237.13" y1="133.97" x2="246.30" y2="131.80" stroke="#e4e5f6" stroke-width="1.1"/>
<circle cx="246.30" cy="132.30" r="6.0" fill="url(#gN)"/>
<line x1="272.17" y1="139.63" x2="281.33" y2="137.47" stroke="#4cc43c" stroke-width="3.6"/><line x1="281.33" y1="137.47" x2="290.50" y2="135.30" stroke="#c6c8e2" stroke-width="3.6"/><line x1="272.17" y1="139.13" x2="281.33" y2="136.97" stroke="#7ee06a" stroke-width="1.1"/><line x1="281.33" y1="136.97" x2="290.50" y2="134.80" stroke="#e4e5f6" stroke-width="1.1"/>
<circle cx="290.50" cy="135.30" r="6.0" fill="url(#gN)"/>
<line x1="316.37" y1="142.63" x2="325.53" y2="140.47" stroke="#4cc43c" stroke-width="3.6"/><line x1="325.53" y1="140.47" x2="334.70" y2="138.30" stroke="#c6c8e2" stroke-width="3.6"/><line x1="316.37" y1="142.13" x2="325.53" y2="139.97" stroke="#7ee06a" stroke-width="1.1"/><line x1="325.53" y1="139.97" x2="334.70" y2="137.80" stroke="#e4e5f6" stroke-width="1.1"/>
<circle cx="334.70" cy="138.30" r="6.0" fill="url(#gN)"/>
<circle cx="378.90" cy="141.30" r="6.0" fill="url(#gN)"/>
<line x1="183.77" y1="133.63" x2="168.13" y2="133.97" stroke="#4cc43c" stroke-width="3.6"/><line x1="168.13" y1="133.97" x2="152.50" y2="134.30" stroke="#c6c8e2" stroke-width="3.6"/><line x1="183.77" y1="133.13" x2="168.13" y2="133.47" stroke="#7ee06a" stroke-width="1.1"/><line x1="168.13" y1="133.47" x2="152.50" y2="133.80" stroke="#e4e5f6" stroke-width="1.1"/>
<line x1="183.77" y1="133.63" x2="190.23" y2="135.47" stroke="#4cc43c" stroke-width="3.6"/><line x1="190.23" y1="135.47" x2="196.70" y2="137.30" stroke="#c6c8e2" stroke-width="3.6"/><line x1="183.77" y1="133.13" x2="190.23" y2="134.97" stroke="#7ee06a" stroke-width="1.1"/><line x1="190.23" y1="134.97" x2="196.70" y2="136.80" stroke="#e4e5f6" stroke-width="1.1"/>
<circle cx="183.77" cy="133.63" r="6.6" fill="url(#gG)"/>
<line x1="227.97" y1="136.63" x2="212.33" y2="136.97" stroke="#4cc43c" stroke-width="3.6"/><line x1="212.33" y1="136.97" x2="196.70" y2="137.30" stroke="#c6c8e2" stroke-width="3.6"/><line x1="227.97" y1="136.13" x2="212.33" y2="136.47" stroke="#7ee06a" stroke-width="1.1"/><line x1="212.33" y1="136.47" x2="196.70" y2="136.80" stroke="#e4e5f6" stroke-width="1.1"/>
<line x1="227.97" y1="136.63" x2="234.43" y2="138.47" stroke="#4cc43c" stroke-width="3.6"/><line x1="234.43" y1="138.47" x2="240.90" y2="140.30" stroke="#c6c8e2" stroke-width="3.6"/><line x1="227.97" y1="136.13" x2="234.43" y2="137.97" stroke="#7ee06a" stroke-width="1.1"/><line x1="234.43" y1="137.97" x2="240.90" y2="139.80" stroke="#e4e5f6" stroke-width="1.1"/>
<circle cx="227.97" cy="136.63" r="6.6" fill="url(#gG)"/>
<line x1="272.17" y1="139.63" x2="256.53" y2="139.97" stroke="#4cc43c" stroke-width="3.6"/><line x1="256.53" y1="139.97" x2="240.90" y2="140.30" stroke="#c6c8e2" stroke-width="3.6"/><line x1="272.17" y1="139.13" x2="256.53" y2="139.47" stroke="#7ee06a" stroke-width="1.1"/><line x1="256.53" y1="139.47" x2="240.90" y2="139.80" stroke="#e4e5f6" stroke-width="1.1"/>
<line x1="272.17" y1="139.63" x2="278.63" y2="141.47" stroke="#4cc43c" stroke-width="3.6"/><line x1="278.63" y1="141.47" x2="285.10" y2="143.30" stroke="#c6c8e2" stroke-width="3.6"/><line x1="272.17" y1="139.13" x2="278.63" y2="140.97" stroke="#7ee06a" stroke-width="1.1"/><line x1="278.63" y1="140.97" x2="285.10" y2="142.80" stroke="#e4e5f6" stroke-width="1.1"/>
<circle cx="272.17" cy="139.63" r="6.6" fill="url(#gG)"/>
<line x1="316.37" y1="142.63" x2="300.73" y2="142.97" stroke="#4cc43c" stroke-width="3.6"/><line x1="300.73" y1="142.97" x2="285.10" y2="143.30" stroke="#c6c8e2" stroke-width="3.6"/><line x1="316.37" y1="142.13" x2="300.73" y2="142.47" stroke="#7ee06a" stroke-width="1.1"/><line x1="300.73" y1="142.47" x2="285.10" y2="142.80" stroke="#e4e5f6" stroke-width="1.1"/>
<line x1="316.37" y1="142.63" x2="322.83" y2="144.47" stroke="#4cc43c" stroke-width="3.6"/><line x1="322.83" y1="144.47" x2="329.30" y2="146.30" stroke="#c6c8e2" stroke-width="3.6"/><line x1="316.37" y1="142.13" x2="322.83" y2="143.97" stroke="#7ee06a" stroke-width="1.1"/><line x1="322.83" y1="143.97" x2="329.30" y2="145.80" stroke="#e4e5f6" stroke-width="1.1"/>
<circle cx="316.37" cy="142.63" r="6.6" fill="url(#gG)"/>
<line x1="134.17" y1="138.63" x2="143.33" y2="136.47" stroke="#4cc43c" stroke-width="3.6"/><line x1="143.33" y1="136.47" x2="152.50" y2="134.30" stroke="#c6c8e2" stroke-width="3.6"/><line x1="134.17" y1="138.13" x2="143.33" y2="135.97" stroke="#7ee06a" stroke-width="1.1"/><line x1="143.33" y1="135.97" x2="152.50" y2="133.80" stroke="#e4e5f6" stroke-width="1.1"/>
<circle cx="152.50" cy="134.30" r="6.0" fill="url(#gN)"/>
<line x1="178.37" y1="141.63" x2="187.53" y2="139.47" stroke="#4cc43c" stroke-width="3.6"/><line x1="187.53" y1="139.47" x2="196.70" y2="137.30" stroke="#c6c8e2" stroke-width="3.6"/><line x1="178.37" y1="141.13" x2="187.53" y2="138.97" stroke="#7ee06a" stroke-width="1.1"/><line x1="187.53" y1="138.97" x2="196.70" y2="136.80" stroke="#e4e5f6" stroke-width="1.1"/>
<circle cx="196.70" cy="137.30" r="6.0" fill="url(#gN)"/>
<line x1="222.57" y1="144.63" x2="231.73" y2="142.47" stroke="#4cc43c" stroke-width="3.6"/><line x1="231.73" y1="142.47" x2="240.90" y2="140.30" stroke="#c6c8e2" stroke-width="3.6"/><line x1="222.57" y1="144.13" x2="231.73" y2="141.97" stroke="#7ee06a" stroke-width="1.1"/><line x1="231.73" y1="141.97" x2="240.90" y2="139.80" stroke="#e4e5f6" stroke-width="1.1"/>
<circle cx="240.90" cy="140.30" r="6.0" fill="url(#gN)"/>
<line x1="266.77" y1="147.63" x2="275.93" y2="145.47" stroke="#4cc43c" stroke-width="3.6"/><line x1="275.93" y1="145.47" x2="285.10" y2="143.30" stroke="#c6c8e2" stroke-width="3.6"/><line x1="266.77" y1="147.13" x2="275.93" y2="144.97" stroke="#7ee06a" stroke-width="1.1"/><line x1="275.93" y1="144.97" x2="285.10" y2="142.80" stroke="#e4e5f6" stroke-width="1.1"/>
<circle cx="285.10" cy="143.30" r="6.0" fill="url(#gN)"/>
<circle cx="329.30" cy="146.30" r="6.0" fill="url(#gN)"/>
<line x1="134.17" y1="138.63" x2="118.53" y2="138.97" stroke="#4cc43c" stroke-width="3.6"/><line x1="118.53" y1="138.97" x2="102.90" y2="139.30" stroke="#c6c8e2" stroke-width="3.6"/><line x1="134.17" y1="138.13" x2="118.53" y2="138.47" stroke="#7ee06a" stroke-width="1.1"/><line x1="118.53" y1="138.47" x2="102.90" y2="138.80" stroke="#e4e5f6" stroke-width="1.1"/>
<line x1="134.17" y1="138.63" x2="140.63" y2="140.47" stroke="#4cc43c" stroke-width="3.6"/><line x1="140.63" y1="140.47" x2="147.10" y2="142.30" stroke="#c6c8e2" stroke-width="3.6"/><line x1="134.17" y1="138.13" x2="140.63" y2="139.97" stroke="#7ee06a" stroke-width="1.1"/><line x1="140.63" y1="139.97" x2="147.10" y2="141.80" stroke="#e4e5f6" stroke-width="1.1"/>
<circle cx="134.17" cy="138.63" r="6.6" fill="url(#gG)"/>
<line x1="178.37" y1="141.63" x2="162.73" y2="141.97" stroke="#4cc43c" stroke-width="3.6"/><line x1="162.73" y1="141.97" x2="147.10" y2="142.30" stroke="#c6c8e2" stroke-width="3.6"/><line x1="178.37" y1="141.13" x2="162.73" y2="141.47" stroke="#7ee06a" stroke-width="1.1"/><line x1="162.73" y1="141.47" x2="147.10" y2="141.80" stroke="#e4e5f6" stroke-width="1.1"/>
<line x1="178.37" y1="141.63" x2="184.83" y2="143.47" stroke="#4cc43c" stroke-width="3.6"/><line x1="184.83" y1="143.47" x2="191.30" y2="145.30" stroke="#c6c8e2" stroke-width="3.6"/><line x1="178.37" y1="141.13" x2="184.83" y2="142.97" stroke="#7ee06a" stroke-width="1.1"/><line x1="184.83" y1="142.97" x2="191.30" y2="144.80" stroke="#e4e5f6" stroke-width="1.1"/>
<circle cx="178.37" cy="141.63" r="6.6" fill="url(#gG)"/>
<line x1="222.57" y1="144.63" x2="206.93" y2="144.97" stroke="#4cc43c" stroke-width="3.6"/><line x1="206.93" y1="144.97" x2="191.30" y2="145.30" stroke="#c6c8e2" stroke-width="3.6"/><line x1="222.57" y1="144.13" x2="206.93" y2="144.47" stroke="#7ee06a" stroke-width="1.1"/><line x1="206.93" y1="144.47" x2="191.30" y2="144.80" stroke="#e4e5f6" stroke-width="1.1"/>
<line x1="222.57" y1="144.63" x2="229.03" y2="146.47" stroke="#4cc43c" stroke-width="3.6"/><line x1="229.03" y1="146.47" x2="235.50" y2="148.30" stroke="#c6c8e2" stroke-width="3.6"/><line x1="222.57" y1="144.13" x2="229.03" y2="145.97" stroke="#7ee06a" stroke-width="1.1"/><line x1="229.03" y1="145.97" x2="235.50" y2="147.80" stroke="#e4e5f6" stroke-width="1.1"/>
<circle cx="222.57" cy="144.63" r="6.6" fill="url(#gG)"/>
<line x1="266.77" y1="147.63" x2="251.13" y2="147.97" stroke="#4cc43c" stroke-width="3.6"/><line x1="251.13" y1="147.97" x2="235.50" y2="148.30" stroke="#c6c8e2" stroke-width="3.6"/><line x1="266.77" y1="147.13" x2="251.13" y2="147.47" stroke="#7ee06a" stroke-width="1.1"/><line x1="251.13" y1="147.47" x2="235.50" y2="147.80" stroke="#e4e5f6" stroke-width="1.1"/>
<line x1="266.77" y1="147.63" x2="273.23" y2="149.47" stroke="#4cc43c" stroke-width="3.6"/><line x1="273.23" y1="149.47" x2="279.70" y2="151.30" stroke="#c6c8e2" stroke-width="3.6"/><line x1="266.77" y1="147.13" x2="273.23" y2="148.97" stroke="#7ee06a" stroke-width="1.1"/><line x1="273.23" y1="148.97" x2="279.70" y2="150.80" stroke="#e4e5f6" stroke-width="1.1"/>
<circle cx="266.77" cy="147.63" r="6.6" fill="url(#gG)"/>
<circle cx="102.90" cy="139.30" r="6.0" fill="url(#gN)"/>
<circle cx="147.10" cy="142.30" r="6.0" fill="url(#gN)"/>
<circle cx="191.30" cy="145.30" r="6.0" fill="url(#gN)"/>
<circle cx="235.50" cy="148.30" r="6.0" fill="url(#gN)"/>
<circle cx="279.70" cy="151.30" r="6.0" fill="url(#gN)"/>
<polygon points="62,133 268,113 456,124.5 250,144.5" fill="#5aa0f0" fill-opacity="0.38" stroke="#4a96e8" stroke-width="1.1"/>

<text x="97.6" y="38.6" font-family="Liberation Sans, sans-serif" font-weight="bold" font-size="21.5" fill="#111">BN</text>
<text x="220.8" y="23.2" font-family="Liberation Sans, sans-serif" font-weight="bold" font-size="16.9" fill="#4f8a2a">Intralayer</text>
<line x1="180.1" y1="27.1" x2="180.1" y2="45.7" stroke="#000" stroke-width="1.9"/>
<line x1="337.8" y1="27.1" x2="337.8" y2="45.7" stroke="#000" stroke-width="1.9"/>
<line x1="189" y1="36.5" x2="328" y2="36.5" stroke="#4f8a2a" stroke-width="4.6"/>
<polygon points="184.5,36.5 190.6,30.9 190,36.5 190.6,42.1" fill="#4f8a2a"/>
<polygon points="332.2,36.5 326.3,30.9 327,36.5 326.3,42.1" fill="#4f8a2a"/>
<text x="228.6" y="105.6" font-family="Liberation Sans, sans-serif" font-weight="bold" font-size="17.2" fill="#c8170c">Interlayer</text>
<line x1="204.4" y1="91" x2="204.4" y2="112.5" stroke="#c8170c" stroke-width="5.2"/>
<polygon points="204.4,86.5 199.1,92.3 209.7,92.3" fill="#c8170c"/>
<polygon points="204.4,117 199.1,111.3 209.7,111.3" fill="#c8170c"/>
<line x1="48.3" y1="158" x2="47.6" y2="132" stroke="#1a1ae6" stroke-width="3.3"/>
<polygon points="47.2,121.2 42.8,134.5 52.2,134.5" fill="#1a1ae6"/>
<line x1="46" y1="160.2" x2="26" y2="162" stroke="#e31e1e" stroke-width="3.6"/>
<polygon points="13.1,162.8 27,157.6 27.5,167.3" fill="#e31e1e"/>
<line x1="50" y1="160" x2="69.5" y2="160.8" stroke="#2ee02e" stroke-width="3.6"/>
<polygon points="80.3,161 68.6,156.2 68.6,165.8" fill="#2ee02e"/>
<circle cx="48.2" cy="159.9" r="3.6" fill="url(#gO)"/>
<text x="43.5" y="117.6" font-family="Liberation Sans, sans-serif" font-weight="bold" font-size="16" fill="#111">c</text>
<text x="2.6" y="168" font-family="Liberation Sans, sans-serif" font-weight="bold" font-size="16" fill="#111">a</text>
<text x="82.6" y="167.3" font-family="Liberation Sans, sans-serif" font-weight="bold" font-size="16" fill="#111">b</text>
<polygon points="600.7,80.6 603.1,82.2 607.1,85.4 609.5,87.8 614.3,89.1 617.1,90.3 619.2,92.7 623.2,95.9 627.2,97.5 624.8,99.1 630.4,99.9 635.2,101 631.2,102.3 636,103.6 645.7,104.7 670.5,106.8 645.7,107.9 639.2,109.5 640.8,111.9 635.2,112.7 629.6,116.8 625.6,120 624,123.2 618.4,125.6 623.2,127.2 628,128.8 645.7,130.4 670.5,131.2 645.7,132 639.2,133.6 636,135.7 615,136.3 601.5,136.8 600.7,136.8" fill="#d2f3fb"/>
<line x1="522.3" y1="16.5" x2="679.4" y2="16.5" stroke="#a8a8a8" stroke-width="1.6"/>
<path d="M522.3,16.5 V143.3 H679.4 V16.5" fill="none" stroke="#7a7a7a" stroke-width="1.2"/>
<line x1="600.7" y1="16.5" x2="600.7" y2="143.3" stroke="#6a6a6a" stroke-width="1.5"/>
<line x1="522.3" y1="79.8" x2="679.4" y2="79.8" stroke="#6a6a6a" stroke-width="1.3" stroke-dasharray="1.5,1.1"/>
<polyline points="547.1,16.9 560,17.7 569.6,19.3 575,20.1 581.4,22.5 584.6,25.7 588.6,28.9 583,30.5 575,32.2 572.8,33.4 575,33.8 581.4,34.5 586.2,38.5 590.3,45 591,46.6 593.5,47.4 595.9,51.4 600.7,53.8" fill="none" stroke="#e8262a" stroke-width="1.2"/>
<polyline points="600.7,80.6 603.1,82.2 607.1,85.4 609.5,87.8 614.3,89.1 617.1,90.3 619.2,92.7 623.2,95.9 627.2,97.5 624.8,99.1 630.4,99.9 635.2,101 631.2,102.3 636,103.6 645.7,104.7 670.5,106.8 645.7,107.9 639.2,109.5 640.8,111.9 635.2,112.7 629.6,116.8 625.6,120 624,123.2 618.4,125.6 623.2,127.2 628,128.8 645.7,130.4 670.5,131.2 645.7,132 639.2,133.6 636,135.7 615,136.3 601.5,136.8" fill="none" stroke="#e8262a" stroke-width="1.2"/>
<line x1="518.8" y1="16.80" x2="522.3" y2="16.80" stroke="#7a7a7a" stroke-width="1"/>
<text x="518.2" y="19.90" font-family="Liberation Sans, sans-serif" font-weight="bold" font-size="10.6" text-anchor="end" fill="#111">10</text>
<line x1="520.0999999999999" y1="32.55" x2="522.3" y2="32.55" stroke="#7a7a7a" stroke-width="1"/>
<line x1="518.8" y1="48.30" x2="522.3" y2="48.30" stroke="#7a7a7a" stroke-width="1"/>
<text x="518.2" y="51.40" font-family="Liberation Sans, sans-serif" font-weight="bold" font-size="10.6" text-anchor="end" fill="#111">5</text>
<line x1="520.0999999999999" y1="64.05" x2="522.3" y2="64.05" stroke="#7a7a7a" stroke-width="1"/>
<line x1="518.8" y1="79.80" x2="522.3" y2="79.80" stroke="#7a7a7a" stroke-width="1"/>
<text x="518.2" y="82.90" font-family="Liberation Sans, sans-serif" font-weight="bold" font-size="10.6" text-anchor="end" fill="#111">0</text>
<line x1="520.0999999999999" y1="95.55" x2="522.3" y2="95.55" stroke="#7a7a7a" stroke-width="1"/>
<line x1="518.8" y1="111.30" x2="522.3" y2="111.30" stroke="#7a7a7a" stroke-width="1"/>
<text x="518.2" y="114.40" font-family="Liberation Sans, sans-serif" font-weight="bold" font-size="10.6" text-anchor="end" fill="#111">-5</text>
<line x1="520.0999999999999" y1="127.05" x2="522.3" y2="127.05" stroke="#7a7a7a" stroke-width="1"/>
<line x1="518.8" y1="142.80" x2="522.3" y2="142.80" stroke="#7a7a7a" stroke-width="1"/>
<text x="518.2" y="145.90" font-family="Liberation Sans, sans-serif" font-weight="bold" font-size="10.6" text-anchor="end" fill="#111">-10</text>
<text transform="translate(499,80) rotate(-90)" font-family="Liberation Sans, sans-serif" font-weight="bold" font-size="15" text-anchor="middle" fill="#000">E (eV)</text>
<text x="600.7" y="159.3" font-family="Liberation Sans, sans-serif" font-weight="bold" font-size="14" text-anchor="middle" fill="#000">-COHP</text>
<text x="528" y="109.4" font-family="Liberation Sans, sans-serif" font-weight="bold" font-size="17.1" fill="#3b7ac6">-ICOHP</text>
<rect x="112.5" y="386.50" width="35" height="28.00" fill="#f0c594" stroke="#333" stroke-width="1"/>
<rect x="171.5" y="317.50" width="35" height="97.00" fill="#f0c594" stroke="#333" stroke-width="1"/>
<rect x="229.5" y="283.50" width="35" height="131.00" fill="#f0c594" stroke="#333" stroke-width="1"/>
<rect x="287.5" y="251.50" width="35" height="163.00" fill="#f0c594" stroke="#333" stroke-width="1"/>
<rect x="345.5" y="297.50" width="35" height="117.00" fill="#f0c594" stroke="#333" stroke-width="1"/>
<rect x="403.5" y="379.50" width="35" height="35.00" fill="#f0c594" stroke="#333" stroke-width="1"/>
<rect x="461.5" y="365.50" width="35" height="49.00" fill="#f0c594" stroke="#333" stroke-width="1"/>
<rect x="520.5" y="339.50" width="35" height="75.00" fill="#f0c594" stroke="#333" stroke-width="1"/>
<rect x="578.5" y="376.50" width="35" height="38.00" fill="#f0c594" stroke="#333" stroke-width="1"/>
<rect x="636.5" y="362.50" width="35" height="52.00" fill="#f0c594" stroke="#333" stroke-width="1"/>
<rect x="112.5" y="448.50" width="35" height="162.00" fill="#a5e2a0" stroke="#444" stroke-width="1"/>
<rect x="171.5" y="464.50" width="35" height="146.00" fill="#a5e2a0" stroke="#444" stroke-width="1"/>
<rect x="229.5" y="565.50" width="35" height="45.00" fill="#a5e2a0" stroke="#444" stroke-width="1"/>
<rect x="287.5" y="569.50" width="35" height="41.00" fill="#a5e2a0" stroke="#444" stroke-width="1"/>
<rect x="345.5" y="562.50" width="35" height="48.00" fill="#a5e2a0" stroke="#444" stroke-width="1"/>
<rect x="403.5" y="547.50" width="35" height="63.00" fill="#a5e2a0" stroke="#444" stroke-width="1"/>
<rect x="461.5" y="550.50" width="35" height="60.00" fill="#a5e2a0" stroke="#444" stroke-width="1"/>
<rect x="520.5" y="556.50" width="35" height="54.00" fill="#a5e2a0" stroke="#444" stroke-width="1"/>
<rect x="578.5" y="556.50" width="35" height="54.00" fill="#a5e2a0" stroke="#444" stroke-width="1"/>
<rect x="636.5" y="559.50" width="35" height="51.00" fill="#a5e2a0" stroke="#444" stroke-width="1"/>
<path d="M101.5,219.5 H683 V610.5 H101.5 Z" fill="none" stroke="#3c3c3c" stroke-width="1.2"/>
<line x1="101.5" y1="414.5" x2="683.0" y2="414.5" stroke="#3c3c3c" stroke-width="1.2"/>
<line x1="96.0" y1="414.50" x2="101.5" y2="414.50" stroke="#3c3c3c" stroke-width="1.2"/>
<text x="92.5" y="420.10" font-family="Liberation Sans, sans-serif" font-weight="bold" font-size="16" text-anchor="end" fill="#000">0</text>
<line x1="98.0" y1="392.70" x2="101.5" y2="392.70" stroke="#3c3c3c" stroke-width="1.2"/>
<line x1="96.0" y1="370.90" x2="101.5" y2="370.90" stroke="#3c3c3c" stroke-width="1.2"/>
<text x="92.5" y="376.50" font-family="Liberation Sans, sans-serif" font-weight="bold" font-size="16" text-anchor="end" fill="#000">100</text>
<line x1="98.0" y1="349.10" x2="101.5" y2="349.10" stroke="#3c3c3c" stroke-width="1.2"/>
<line x1="96.0" y1="327.30" x2="101.5" y2="327.30" stroke="#3c3c3c" stroke-width="1.2"/>
<text x="92.5" y="332.90" font-family="Liberation Sans, sans-serif" font-weight="bold" font-size="16" text-anchor="end" fill="#000">200</text>
<line x1="98.0" y1="305.50" x2="101.5" y2="305.50" stroke="#3c3c3c" stroke-width="1.2"/>
<line x1="96.0" y1="283.70" x2="101.5" y2="283.70" stroke="#3c3c3c" stroke-width="1.2"/>
<text x="92.5" y="289.30" font-family="Liberation Sans, sans-serif" font-weight="bold" font-size="16" text-anchor="end" fill="#000">300</text>
<line x1="98.0" y1="261.90" x2="101.5" y2="261.90" stroke="#3c3c3c" stroke-width="1.2"/>
<line x1="96.0" y1="240.10" x2="101.5" y2="240.10" stroke="#3c3c3c" stroke-width="1.2"/>
<text x="92.5" y="245.70" font-family="Liberation Sans, sans-serif" font-weight="bold" font-size="16" text-anchor="end" fill="#000">400</text>
<line x1="96.0" y1="610.30" x2="101.5" y2="610.30" stroke="#3c3c3c" stroke-width="1.2"/>
<text x="92.5" y="615.90" font-family="Liberation Sans, sans-serif" font-weight="bold" font-size="16" text-anchor="end" fill="#000">0</text>
<line x1="98.0" y1="575.30" x2="101.5" y2="575.30" stroke="#3c3c3c" stroke-width="1.2"/>
<line x1="96.0" y1="540.30" x2="101.5" y2="540.30" stroke="#3c3c3c" stroke-width="1.2"/>
<text x="92.5" y="545.90" font-family="Liberation Sans, sans-serif" font-weight="bold" font-size="16" text-anchor="end" fill="#000">5</text>
<line x1="98.0" y1="505.30" x2="101.5" y2="505.30" stroke="#3c3c3c" stroke-width="1.2"/>
<line x1="96.0" y1="470.30" x2="101.5" y2="470.30" stroke="#3c3c3c" stroke-width="1.2"/>
<text x="92.5" y="475.90" font-family="Liberation Sans, sans-serif" font-weight="bold" font-size="16" text-anchor="end" fill="#000">10</text>
<line x1="98.0" y1="435.30" x2="101.5" y2="435.30" stroke="#3c3c3c" stroke-width="1.2"/>
<line x1="130.10" y1="610.3" x2="130.10" y2="615.3" stroke="#3c3c3c" stroke-width="1.2"/>
<line x1="188.30" y1="610.3" x2="188.30" y2="615.3" stroke="#3c3c3c" stroke-width="1.2"/>
<line x1="246.50" y1="610.3" x2="246.50" y2="615.3" stroke="#3c3c3c" stroke-width="1.2"/>
<line x1="304.70" y1="610.3" x2="304.70" y2="615.3" stroke="#3c3c3c" stroke-width="1.2"/>
<line x1="362.90" y1="610.3" x2="362.90" y2="615.3" stroke="#3c3c3c" stroke-width="1.2"/>
<line x1="421.10" y1="610.3" x2="421.10" y2="615.3" stroke="#3c3c3c" stroke-width="1.2"/>
<line x1="479.30" y1="610.3" x2="479.30" y2="615.3" stroke="#3c3c3c" stroke-width="1.2"/>
<line x1="537.50" y1="610.3" x2="537.50" y2="615.3" stroke="#3c3c3c" stroke-width="1.2"/>
<line x1="595.70" y1="610.3" x2="595.70" y2="615.3" stroke="#3c3c3c" stroke-width="1.2"/>
<line x1="653.90" y1="610.3" x2="653.90" y2="615.3" stroke="#3c3c3c" stroke-width="1.2"/>
<line x1="101.00" y1="610.3" x2="101.00" y2="613.3" stroke="#3c3c3c" stroke-width="1.2"/>
<line x1="159.20" y1="610.3" x2="159.20" y2="613.3" stroke="#3c3c3c" stroke-width="1.2"/>
<line x1="217.40" y1="610.3" x2="217.40" y2="613.3" stroke="#3c3c3c" stroke-width="1.2"/>
<line x1="275.60" y1="610.3" x2="275.60" y2="613.3" stroke="#3c3c3c" stroke-width="1.2"/>
<line x1="333.80" y1="610.3" x2="333.80" y2="613.3" stroke="#3c3c3c" stroke-width="1.2"/>
<line x1="392.00" y1="610.3" x2="392.00" y2="613.3" stroke="#3c3c3c" stroke-width="1.2"/>
<line x1="450.20" y1="610.3" x2="450.20" y2="613.3" stroke="#3c3c3c" stroke-width="1.2"/>
<line x1="508.40" y1="610.3" x2="508.40" y2="613.3" stroke="#3c3c3c" stroke-width="1.2"/>
<line x1="566.60" y1="610.3" x2="566.60" y2="613.3" stroke="#3c3c3c" stroke-width="1.2"/>
<line x1="624.80" y1="610.3" x2="624.80" y2="613.3" stroke="#3c3c3c" stroke-width="1.2"/>
<line x1="683.00" y1="610.3" x2="683.00" y2="613.3" stroke="#3c3c3c" stroke-width="1.2"/>
<text x="128.60" y="630.2" font-family="Liberation Sans, sans-serif" font-weight="bold" font-size="15.7" text-anchor="middle" fill="#000">Graphite</text>
<text x="189.90" y="630.2" font-family="Liberation Sans, sans-serif" font-weight="bold" font-size="15.7" text-anchor="middle" fill="#000">BN</text>
<text x="245.90" y="630.2" font-family="Liberation Sans, sans-serif" font-weight="bold" font-size="15.7" text-anchor="middle" fill="#000">MoS<tspan font-size="10.5" dy="3.6">2</tspan></text>
<text x="305.55" y="630.2" font-family="Liberation Sans, sans-serif" font-weight="bold" font-size="15.7" text-anchor="middle" fill="#000">MoSe<tspan font-size="10.5" dy="3.6">2</tspan></text>
<text x="364.75" y="630.2" font-family="Liberation Sans, sans-serif" font-weight="bold" font-size="15.7" text-anchor="middle" fill="#000">WS<tspan font-size="10.5" dy="3.6">2</tspan></text>
<text x="421.30" y="630.2" font-family="Liberation Sans, sans-serif" font-weight="bold" font-size="15.7" text-anchor="middle" fill="#000">GaS</text>
<text x="478.50" y="630.2" font-family="Liberation Sans, sans-serif" font-weight="bold" font-size="15.7" text-anchor="middle" fill="#000">GaSe</text>
<text x="537.00" y="629.3" font-family="Liberation Sans, sans-serif" font-weight="bold" font-size="15.7" text-anchor="middle" fill="#000">GaTe</text>
<text x="595.20" y="630.2" font-family="Liberation Sans, sans-serif" font-weight="bold" font-size="15.7" text-anchor="middle" fill="#000">InS</text>
<text x="654.20" y="630.2" font-family="Liberation Sans, sans-serif" font-weight="bold" font-size="15.7" text-anchor="middle" fill="#000">InSe</text>
<text transform="translate(655.7,243.2) scale(1.045,1)" font-family="Liberation Sans, sans-serif" font-weight="bold" font-size="16.85" text-anchor="end" fill="#000">Interlayer interactions</text>
<text transform="translate(661.2,442) scale(1.045,1)" font-family="Liberation Sans, sans-serif" font-weight="bold" font-size="16.9" text-anchor="end" fill="#000">Intralayer cation-anion bond</text>
<text transform="translate(41.2,316.5) rotate(-90) scale(1,1.05)" font-family="Liberation Sans, sans-serif" font-weight="bold" font-size="20.3" text-anchor="middle" fill="#000">-ICOHP/A (mJ/m<tspan font-size="12" dy="-8">2</tspan><tspan dy="8">)</tspan></text>
<text transform="translate(41.2,512.3) rotate(-90) scale(1,1.05)" font-family="Liberation Sans, sans-serif" font-weight="bold" font-size="20.3" text-anchor="middle" fill="#000">-ICOHP/bond (eV)</text>
<text x="26.8" y="223" font-family="Liberation Sans, sans-serif" font-weight="bold" font-size="22" fill="#000">b)</text>
<text x="27" y="18.2" font-family="Liberation Sans, sans-serif" font-weight="bold" font-size="22.5" fill="#000">a<tspan dx="0.8">)</tspan></text>
</svg>
</body></html>
